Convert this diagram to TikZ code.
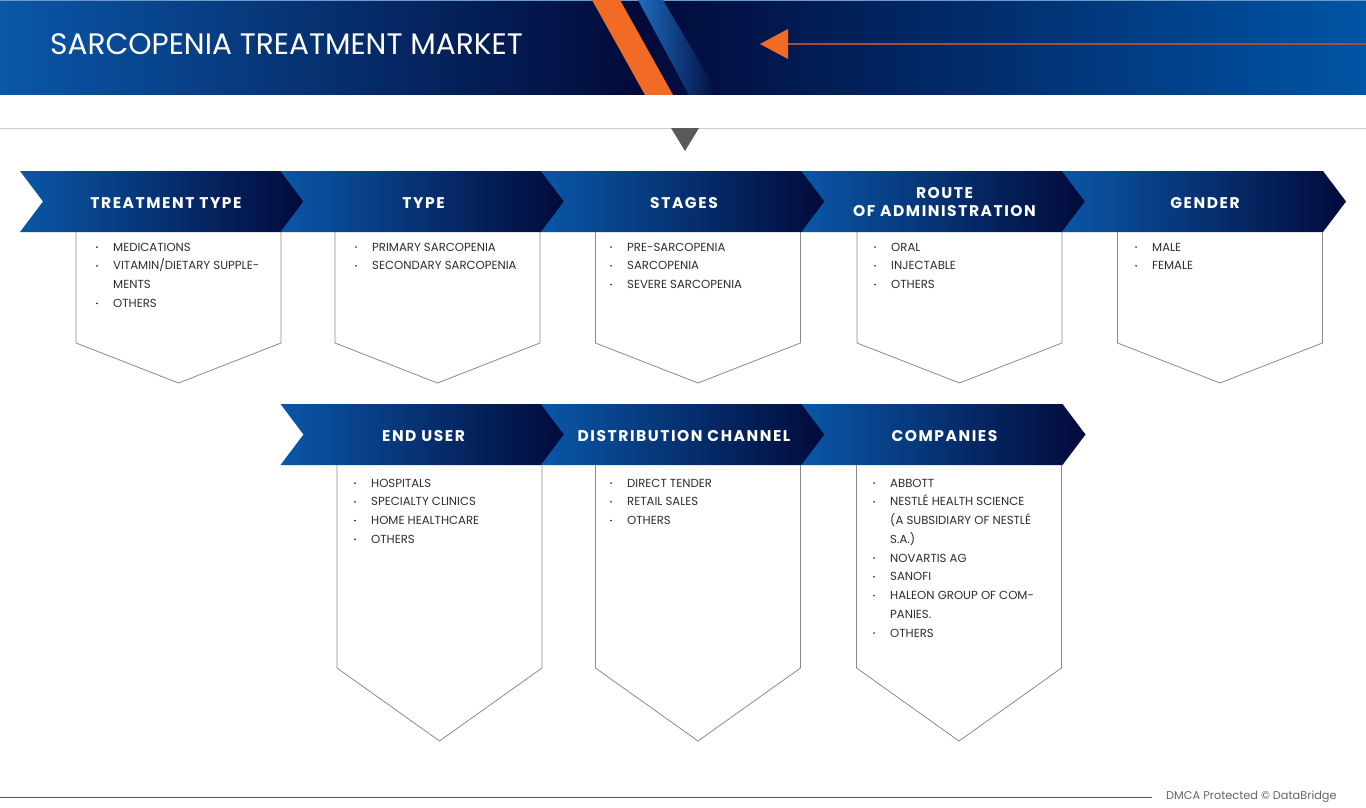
\documentclass[tikz,border=0pt]{standalone}
\usepackage{fontspec}
\setmainfont{Poppins}
\usetikzlibrary{calc}
\definecolor{cblue}{HTML}{0A57A8}
\definecolor{cblueR}{HTML}{0055A6}
\definecolor{cnavy}{HTML}{020A3A}
\definecolor{cstripe}{HTML}{1E6CC0}
\definecolor{corange}{HTML}{F26B25}
\definecolor{cline}{HTML}{A0503A}
\definecolor{ctext}{HTML}{2E2E2E}
\definecolor{cbox}{HTML}{8A8A8A}
\definecolor{ctri}{HTML}{5A5A5A}
\tikzset{
  hdr/.style={text=white, align=center, font=\fontsize{15.5}{18}\selectfont\bfseries\addfontfeatures{LetterSpace=10}},
  itemtext/.style={anchor=base west, inner sep=0pt, text=ctext, font=\fontsize{11.7}{11.7}\selectfont},
  boxline/.style={draw=cbox, line width=0.8pt},
  chevfill/.style={left color=cblue, right color=cnavy}
}
\newcommand\chev[2]{%
  \shade[chevfill] (#1,#2) -- ++(261,0) -- ++(23,30.5) -- ++(-23,30.5) -- ++(-261,0) -- ++(23,-30.5) -- cycle;}
\newcommand\bx[4]{% left, top, side bottom, depth
  \draw[boxline] (#1,#2) -- (#1,#3) -- ({#1+102.5},{#3+#4}) -- ({#1+205},#3) -- ({#1+205},#2);}
\newcommand\items[4]{% prefix, text x, first baseline, list
  \foreach \myb/\myt [count=\i] in {#4} {
    \node[itemtext] (#1-\i) at (#2,{#3+(\i-1)*18.75}) {\myt};
    \ifnum\myb=1 \fill[ctext] ({#2-16},{#3+(\i-1)*18.75-3.9}) circle (0.9);\fi
  }}
\begin{document}
\begin{tikzpicture}[x=1pt,y=-1pt]
\useasboundingbox (0,0) rectangle (1366,808);
\fill[white] (0,0) rectangle (1366,808);
% header band
\shade[left color=cblue, right color=cnavy] (0,0) rectangle (640,95);
\shade[left color=cnavy, right color=cblueR] (640,0) rectangle (1366,95);
\draw[cblue!60, line width=0.8] (0,0.4) -- (1366,0.4);
\shade[left color=cstripe, right color=cnavy] (638,0) -- (663,0) -- (719,95) -- (689,95) -- cycle;
\fill[corange] (592,0) -- (620,0) -- (673,95) -- (645,95) -- cycle;
\node[anchor=base west, inner sep=0pt, text=white, font=\fontsize{29.6}{29.6}\selectfont] (title) at (50,55) {SARCOPENIA TREATMENT MARKET};
\coordinate (lineend) at (1366,44);
\coordinate (arrowbase) at (788,44);
\draw[cline, line width=1.2] (lineend) -- (arrowbase);
\fill[corange] (760,44) -- (788,29) -- (788,59) -- cycle;
% separator
\draw[black!20, line width=1] (0,128) -- (1366,128);
\fill[ctri] (671,128) -- (699,128) -- (685,151) -- cycle;
% row 1 chevrons
\chev{20}{171}
\chev{280.5}{171}
\chev{541}{171}
\chev{801.5}{171}
\chev{1062}{171}
\node[hdr] (h1) at (166,203) {TREATMENT TYPE};
\node[hdr] (h2) at (423.5,203) {TYPE};
\node[hdr] (h3) at (684,203) {STAGES};
\node[hdr] (h4) at (944.5,202) {ROUTE\\OF ADMINISTRATION};
\node[hdr] (h5) at (1205,203) {GENDER};
% row 1 boxes
\bx{76}{232}{343}{40}
\bx{335}{232}{343}{40}
\bx{595.5}{232}{343}{40}
\bx{857}{232}{343}{40}
\bx{1117.5}{232}{343}{40}
\items{a}{113}{251}{1/MEDICATIONS, 1/{VITAMIN/DIETARY SUPPLE-}, 0/MENTS, 1/OTHERS}
\items{b}{372}{251}{1/PRIMARY SARCOPENIA, 1/SECONDARY SARCOPENIA}
\items{c}{627}{251}{1/PRE-SARCOPENIA, 1/SARCOPENIA, 1/SEVERE SARCOPENIA}
\items{d}{891}{251}{1/ORAL, 1/INJECTABLE, 1/OTHERS}
\items{e}{1152}{251}{1/MALE, 1/FEMALE}
% row 2 chevrons
\chev{280.5}{404}
\chev{541}{404}
\chev{801.5}{404}
\node[hdr] (h6) at (423.5,436) {END USER};
\node[hdr] (h7) at (684,436) {DISTRIBUTION CHANNEL};
\node[hdr] (h8) at (944.5,436) {COMPANIES};
% row 2 boxes
\bx{337}{465}{668}{73}
\bx{595.5}{465}{668}{73}
\bx{856.5}{465}{668}{73}
\items{f}{371}{487}{1/HOSPITALS, 1/SPECIALTY CLINICS, 1/HOME HEALTHCARE, 1/OTHERS}
\items{g}{627}{487}{1/DIRECT TENDER, 1/RETAIL SALES, 1/OTHERS}
\items{h}{890}{487}{1/ABBOTT, 1/NESTLÉ HEALTH SCIENCE, 0/(A SUBSIDIARY OF NESTLÉ, 0/S.A.), 1/NOVARTIS AG, 1/SANOFI, 1/HALEON GROUP OF COM-, 0/PANIES., 1/OTHERS}
% footer
\coordinate (footend) at (1152,797);
\draw[black!65, line width=0.8] (0,797) -- (footend);
\node[anchor=west, inner sep=0pt, text=black!60, font=\fontsize{11.3}{11.3}\selectfont] (dmca) at (1166,797) {DMCA Protected © DataBridge};
\end{tikzpicture}
\end{document}
